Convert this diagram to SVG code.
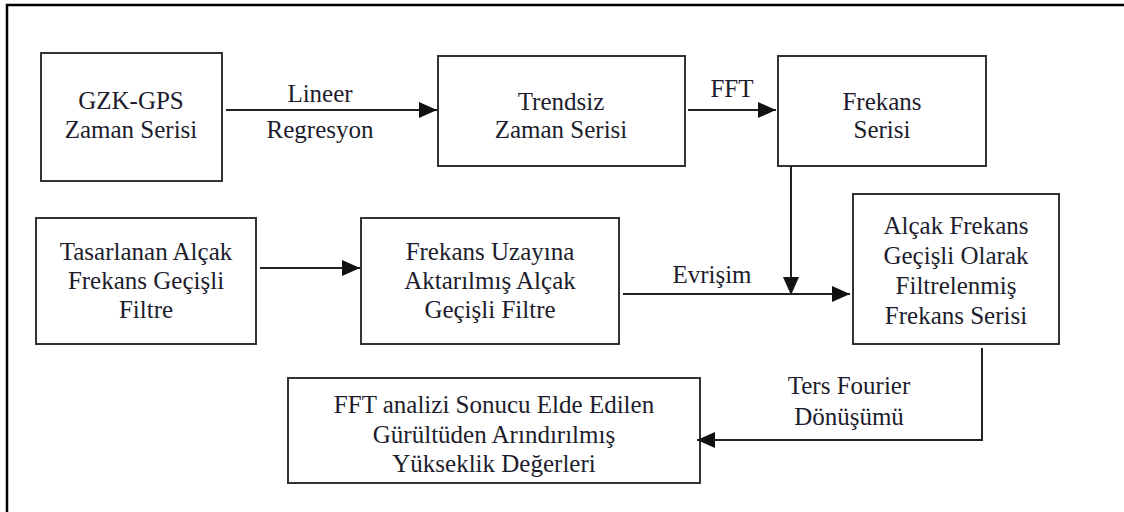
<svg xmlns="http://www.w3.org/2000/svg" width="1124" height="512" viewBox="0 0 1124 512">
<style>
.box{fill:#fff;stroke:#333;stroke-width:2}
.t{font-family:'Liberation Serif','Tinos','Times New Roman','DejaVu Serif',serif;font-size:25px;fill:#1c1c2c;text-anchor:middle}
.c{fill:none;stroke:#222;stroke-width:2}
</style>
<defs>
<marker id="ah" markerUnits="userSpaceOnUse" markerWidth="18" markerHeight="16" refX="18" refY="8" orient="auto">
<path d="M0,0 L18,8 L0,16 z" fill="#111"/>
</marker>
</defs>
<rect x="0" y="0" width="1124" height="512" fill="#fff"/>
<rect x="7" y="5" width="1140" height="530" fill="none" stroke="#000" stroke-width="2.5"/>
<g font-family="Liberation Serif, serif">
<g id="n1"><rect class="box" x="41" y="53" width="181" height="128"/>
<text class="t" x="131" y="109">GZK-GPS</text><text class="t" x="131" y="138">Zaman Serisi</text></g>
<g id="n2"><rect class="box" x="438" y="56" width="247" height="110"/>
<text class="t" x="561" y="110">Trendsiz</text><text class="t" x="561" y="138">Zaman Serisi</text></g>
<g id="n3"><rect class="box" x="778" y="56" width="208" height="110"/>
<text class="t" x="882" y="110">Frekans</text><text class="t" x="882" y="138">Serisi</text></g>
<g id="n4"><rect class="box" x="36" y="218" width="220" height="126"/>
<text class="t" x="146" y="260">Tasarlanan Alçak</text><text class="t" x="146" y="289">Frekans Geçişli</text><text class="t" x="146" y="318">Filtre</text></g>
<g id="n5"><rect class="box" x="361" y="218" width="258" height="126"/>
<text class="t" x="490" y="260">Frekans Uzayına</text><text class="t" x="490" y="289">Aktarılmış Alçak</text><text class="t" x="490" y="318">Geçişli Filtre</text></g>
<g id="n6"><rect class="box" x="853" y="194" width="206" height="150"/>
<text class="t" x="956" y="234">Alçak Frekans</text><text class="t" x="956" y="264">Geçişli Olarak</text><text class="t" x="956" y="294">Filtrelenmiş</text><text class="t" x="956" y="324">Frekans Serisi</text></g>
<g id="n7"><rect class="box" x="288" y="378" width="412" height="105"/>
<text class="t" x="494" y="413">FFT analizi Sonucu Elde Edilen</text><text class="t" x="494" y="443">Gürültüden Arındırılmış</text><text class="t" x="494" y="472">Yükseklik Değerleri</text></g>
<g id="connectors">
<line class="c" x1="226" y1="110" x2="437" y2="110" marker-end="url(#ah)"/>
<line class="c" x1="688" y1="110" x2="776" y2="110" marker-end="url(#ah)"/>
<line class="c" x1="260" y1="268" x2="360" y2="268" marker-end="url(#ah)"/>
<line class="c" x1="791" y1="166" x2="791" y2="295" marker-end="url(#ah)"/>
<line class="c" x1="623" y1="294" x2="850" y2="294" marker-end="url(#ah)"/>
<polyline class="c" points="982,348 982,440 697,440" marker-end="url(#ah)"/>
<text class="t" x="320" y="102">Lineer</text>
<text class="t" x="320" y="138">Regresyon</text>
<text class="t" x="732" y="97">FFT</text>
<text class="t" x="712" y="283">Evrişim</text>
<text class="t" x="849" y="394">Ters Fourier</text>
<text class="t" x="849" y="425">Dönüşümü</text>
</g>
</g>
</svg>
